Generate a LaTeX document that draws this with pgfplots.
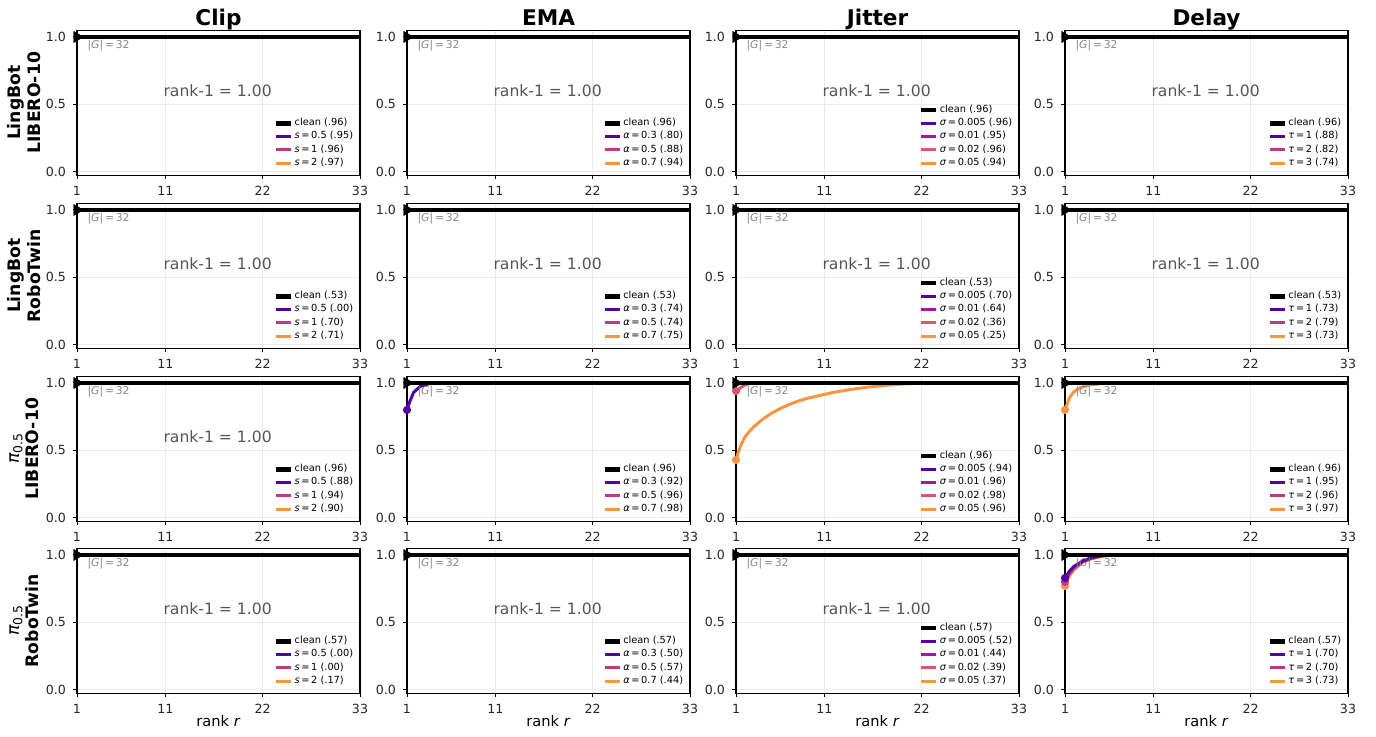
\documentclass[border=0pt]{standalone}
\usepackage{fontspec}
\setmainfont{DejaVu Sans}
\usepackage{pgfplots}
\pgfplotsset{compat=1.18}

\definecolor{pA}{HTML}{5402A3}
\definecolor{pB}{HTML}{C03A83}
\definecolor{pC}{HTML}{F89540}
\definecolor{qA}{HTML}{5402A3}
\definecolor{qB}{HTML}{A01A9C}
\definecolor{qC}{HTML}{D8576B}
\definecolor{qD}{HTML}{F89540}
\definecolor{gridc}{HTML}{EBEBEB}
\definecolor{txtg}{HTML}{555555}
\definecolor{gg}{HTML}{888888}

\newcommand\sS{\textit{s}}
\newcommand\sA{\textit{α}}
\newcommand\sT{\textit{τ}}
\newcommand\sG{\textit{σ}}
\newcommand\eq{\,=\,}

\pgfplotsset{
  panel/.style={
    scale only axis, width=141.5pt, height=72.5pt,
    anchor=north west,
    xmin=1, xmax=33, ymin=-0.025, ymax=1.05,
    xtick={1,11,22,33}, ytick={0,0.5,1},
    yticklabel style={/pgf/number format/.cd, fixed, fixed zerofill, precision=1},
    /pgf/number format/assume math mode=true,
    ticklabel style={font=\fontsize{6.3}{7}\selectfont, text=black!85},
    grid=major, grid style={gridc, line width=0.4pt},
    tick align=outside, tick pos=left,
    major tick length=2pt, tick style={black, line width=0.5pt},
    axis line style={line width=0.6pt},
    legend style={at={(0.985,0.03)}, anchor=south east, draw=none, fill=none,
       font=\fontsize{4.9}{5.8}\selectfont, row sep=0.2pt, inner sep=0.5pt,
       nodes={inner sep=0.6pt}},
    legend cell align=left,
    legend image code/.code={\draw[##1] (0pt,0pt) -- (7.5pt,0pt);},
    clip mode=individual,
  },
  curve/.style={line width=1.5pt, mark=*, mark indices={1}, mark size=1.25pt},
  bottomrow/.style={xlabel={rank \textit{r}}, xlabel style={font=\fontsize{7.3}{8}\selectfont, yshift=6pt}},
}

\newcommand{\Gnote}{\node[anchor=west, inner sep=0pt, text=gg, font=\fontsize{5.4}{6}\selectfont] at (axis cs:2.15,0.935) {|\textit{G}|\eq 32};}
\newcommand{\rankone}{\node[text=txtg, font=\fontsize{7.8}{9}\selectfont] at (axis cs:16.9,0.60) {rank-1 = 1.00};}
\newcommand{\clean}{\addplot[black, line width=2.3pt, mark=triangle*, mark indices={1}, mark size=3.3pt, mark options={rotate=-90, line width=0.1pt}, forget plot] coordinates {(1,1) (33,1)};}
\newcommand{\flatline}[1]{\addplot[#1, line width=1.5pt, forget plot] coordinates {(1,1) (33,1)};}
\newcommand{\leg}[2]{\addlegendimage{#1, line width=1.5pt}\addlegendentry{#2}}
\newcommand{\legclean}[1]{\addlegendimage{black, line width=2.3pt}\addlegendentry{clean (#1)}}

\begin{document}
\begin{tikzpicture}
\useasboundingbox (0,0) rectangle (688pt,-368pt);

% column titles
\foreach \x/\t in {109.25/Clip, 274.25/EMA, 438.75/Jitter, 603.25/Delay}
  \node[anchor=base, font=\fontsize{10.8}{12}\selectfont\bfseries] at (\x pt,-12.5pt) {\t};

% row labels
\node[rotate=90, align=center, font=\fontsize{8.6}{9.6}\selectfont\bfseries] at (12pt,-51.35pt) {LingBot\\LIBERO-10};
\node[rotate=90, align=center, font=\fontsize{8.6}{9.6}\selectfont\bfseries] at (12pt,-137.85pt) {LingBot\\RoboTwin};
\node[rotate=90, align=center, font=\fontsize{8.6}{9.6}\selectfont] at (12pt,-224.35pt) {\textit{π}\raisebox{-0.35ex}{\fontsize{6.2}{7}\selectfont 0.5}\\\bfseries LIBERO-10};
\node[rotate=90, align=center, font=\fontsize{8.6}{9.6}\selectfont] at (12pt,-310.35pt) {\textit{π}\raisebox{-0.35ex}{\fontsize{6.2}{7}\selectfont 0.5}\\\bfseries RoboTwin};

% ================= Row 1 =================
\begin{axis}[panel, at={(38.5pt,-15.1pt)}]
\legclean{.96}\leg{pA}{\sS\eq 0.5 (.95)}\leg{pB}{\sS\eq 1 (.96)}\leg{pC}{\sS\eq 2 (.97)}
\flatline{pA}\flatline{pB}\flatline{pC}\clean
\Gnote\rankone
\end{axis}
\begin{axis}[panel, at={(203.5pt,-15.1pt)}]
\legclean{.96}\leg{pA}{\sA\eq 0.3 (.80)}\leg{pB}{\sA\eq 0.5 (.88)}\leg{pC}{\sA\eq 0.7 (.94)}
\flatline{pA}\flatline{pB}\flatline{pC}\clean
\Gnote\rankone
\end{axis}
\begin{axis}[panel, at={(368pt,-15.1pt)}]
\legclean{.96}\leg{qA}{\sG\eq 0.005 (.96)}\leg{qB}{\sG\eq 0.01 (.95)}\leg{qC}{\sG\eq 0.02 (.96)}\leg{qD}{\sG\eq 0.05 (.94)}
\flatline{qA}\flatline{qB}\flatline{qC}\flatline{qD}\clean
\Gnote\rankone
\end{axis}
\begin{axis}[panel, at={(532.5pt,-15.1pt)}]
\legclean{.96}\leg{pA}{\sT\eq 1 (.88)}\leg{pB}{\sT\eq 2 (.82)}\leg{pC}{\sT\eq 3 (.74)}
\flatline{pA}\flatline{pB}\flatline{pC}\clean
\Gnote\rankone
\end{axis}

% ================= Row 2 =================
\begin{axis}[panel, at={(38.5pt,-101.6pt)}]
\legclean{.53}\leg{pA}{\sS\eq 0.5 (.00)}\leg{pB}{\sS\eq 1 (.70)}\leg{pC}{\sS\eq 2 (.71)}
\flatline{pA}\flatline{pB}\flatline{pC}\clean
\Gnote\rankone
\end{axis}
\begin{axis}[panel, at={(203.5pt,-101.6pt)}]
\legclean{.53}\leg{pA}{\sA\eq 0.3 (.74)}\leg{pB}{\sA\eq 0.5 (.74)}\leg{pC}{\sA\eq 0.7 (.75)}
\flatline{pA}\flatline{pB}\flatline{pC}\clean
\Gnote\rankone
\end{axis}
\begin{axis}[panel, at={(368pt,-101.6pt)}]
\legclean{.53}\leg{qA}{\sG\eq 0.005 (.70)}\leg{qB}{\sG\eq 0.01 (.64)}\leg{qC}{\sG\eq 0.02 (.36)}\leg{qD}{\sG\eq 0.05 (.25)}
\flatline{qA}\flatline{qB}\flatline{qC}\flatline{qD}\clean
\Gnote\rankone
\end{axis}
\begin{axis}[panel, at={(532.5pt,-101.6pt)}]
\legclean{.53}\leg{pA}{\sT\eq 1 (.73)}\leg{pB}{\sT\eq 2 (.79)}\leg{pC}{\sT\eq 3 (.73)}
\flatline{pA}\flatline{pB}\flatline{pC}\clean
\Gnote\rankone
\end{axis}

% ================= Row 3 =================
\begin{axis}[panel, at={(38.5pt,-188.1pt)}]
\legclean{.96}\leg{pA}{\sS\eq 0.5 (.88)}\leg{pB}{\sS\eq 1 (.94)}\leg{pC}{\sS\eq 2 (.90)}
\flatline{pA}\flatline{pB}\flatline{pC}\clean
\Gnote\rankone
\end{axis}
\begin{axis}[panel, at={(203.5pt,-188.1pt)}]
\legclean{.96}\leg{pA}{\sA\eq 0.3 (.92)}\leg{pB}{\sA\eq 0.5 (.96)}\leg{pC}{\sA\eq 0.7 (.98)}
\flatline{pC}\flatline{pB}
\addplot[pA, curve, forget plot] coordinates {(1,0.80) (1.3,0.86) (1.75,0.93) (2.5,0.975) (3.5,0.995) (4.5,1) (33,1)};
\clean
\Gnote
\end{axis}
\begin{axis}[panel, at={(368pt,-188.1pt)}]
\legclean{.96}\leg{qA}{\sG\eq 0.005 (.94)}\leg{qB}{\sG\eq 0.01 (.96)}\leg{qC}{\sG\eq 0.02 (.98)}\leg{qD}{\sG\eq 0.05 (.96)}
\flatline{qA}\flatline{qB}
\addplot[qC, curve, forget plot] coordinates {(1,0.94) (1.5,0.965) (2,0.985) (2.7,1) (33,1)};
\addplot[qD, curve, forget plot] coordinates {(1,0.43) (1.25,0.485) (1.5,0.53) (2,0.60) (2.5,0.64) (3,0.675) (4,0.73) (5,0.775) (6,0.81) (7,0.84) (8,0.865) (9,0.885) (10,0.90) (12,0.93) (14,0.952) (16,0.97) (18,0.983) (20,0.993) (22,1.0) (33,1.0)};
\clean
\Gnote
\end{axis}
\begin{axis}[panel, at={(532.5pt,-188.1pt)}]
\legclean{.96}\leg{pA}{\sT\eq 1 (.95)}\leg{pB}{\sT\eq 2 (.96)}\leg{pC}{\sT\eq 3 (.97)}
\flatline{pA}\flatline{pB}
\addplot[pC, curve, forget plot] coordinates {(1,0.80) (1.5,0.89) (2,0.935) (2.7,0.965) (3.8,0.985) (5,0.995) (6,1) (33,1)};
\clean
\Gnote
\end{axis}

% ================= Row 4 =================
\begin{axis}[panel, bottomrow, at={(38.5pt,-274.1pt)}]
\legclean{.57}\leg{pA}{\sS\eq 0.5 (.00)}\leg{pB}{\sS\eq 1 (.00)}\leg{pC}{\sS\eq 2 (.17)}
\flatline{pA}\flatline{pB}\flatline{pC}\clean
\Gnote\rankone
\end{axis}
\begin{axis}[panel, bottomrow, at={(203.5pt,-274.1pt)}]
\legclean{.57}\leg{pA}{\sA\eq 0.3 (.50)}\leg{pB}{\sA\eq 0.5 (.57)}\leg{pC}{\sA\eq 0.7 (.44)}
\flatline{pA}\flatline{pB}\flatline{pC}\clean
\Gnote\rankone
\end{axis}
\begin{axis}[panel, bottomrow, at={(368pt,-274.1pt)}]
\legclean{.57}\leg{qA}{\sG\eq 0.005 (.52)}\leg{qB}{\sG\eq 0.01 (.44)}\leg{qC}{\sG\eq 0.02 (.39)}\leg{qD}{\sG\eq 0.05 (.37)}
\flatline{qA}\flatline{qB}\flatline{qC}\flatline{qD}\clean
\Gnote\rankone
\end{axis}
\begin{axis}[panel, bottomrow, at={(532.5pt,-274.1pt)}]
\legclean{.57}\leg{pA}{\sT\eq 1 (.70)}\leg{pB}{\sT\eq 2 (.70)}\leg{pC}{\sT\eq 3 (.73)}
\addplot[pC, curve, forget plot] coordinates {(1,0.77) (1.5,0.845) (2,0.89) (3,0.945) (4,0.972) (5,0.988) (6,0.997) (7,1) (33,1)};
\addplot[pB, curve, forget plot] coordinates {(1,0.80) (1.5,0.86) (2,0.90) (3,0.95) (4,0.975) (5,0.99) (6,1) (33,1)};
\addplot[pA, curve, forget plot] coordinates {(1,0.83) (1.5,0.88) (2,0.915) (3,0.955) (4,0.98) (5,0.993) (6,1) (33,1)};
\clean
\Gnote
\end{axis}
\end{tikzpicture}
\end{document}
